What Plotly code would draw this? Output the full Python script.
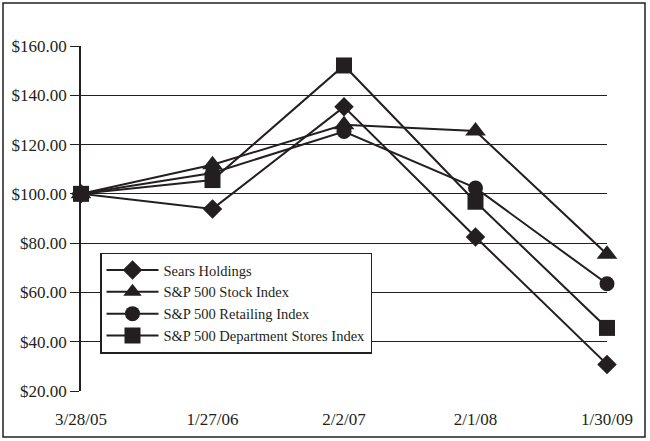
import plotly.graph_objects as go

dates = ["3/28/05", "1/27/06", "2/2/07", "2/1/08", "1/30/09"]
sears = [100, 93.9, 135.3, 82.5, 30.8]
sp500 = [100, 111.8, 128.0, 125.5, 75.5]
retail = [100, 108.5, 125.3, 102.4, 63.5]
dept = [100, 105.6, 152.1, 96.8, 45.6]

series = [
    ("Sears Holdings", sears, "diamond", 15),
    ("S&P 500 Stock Index", sp500, "triangle-up", 18),
    ("S&P 500 Retailing Index", retail, "circle", 15),
    ("S&P 500 Department Stores Index", dept, "square", 16),
]

fig = go.Figure()
for name, vals, sym, sz in series:
    fig.add_trace(go.Scatter(
        x=dates, y=vals, name=name, mode="lines+markers",
        line=dict(color="#231f20", width=2),
        marker=dict(symbol=sym, size=sz, color="#231f20"),
        cliponaxis=False,
    ))

L, R, T, B = 81, 43, 46, 50
W, H = 650, 441
pw, ph = W - L - R, H - T - B

def px(x):
    return (x - L) / pw

def py(y):
    return (H - B - y) / ph

fig.add_shape(type="rect", xref="paper", yref="paper",
              x0=px(3), x1=px(645), y0=py(437), y1=py(3),
              line=dict(color="#231f20", width=1.5), layer="below")

fig.update_layout(
    width=W, height=H,
    margin=dict(l=L, r=R, t=T, b=B),
    paper_bgcolor="white", plot_bgcolor="white",
    font=dict(family="Liberation Serif, Times New Roman, serif", size=17, color="#231f20"),
    showlegend=True,
    legend=dict(x=px(100), y=py(303), xanchor="left", yanchor="middle",
                bgcolor="white", bordercolor="#231f20", borderwidth=1.5,
                font=dict(size=14.5), tracegroupgap=0, itemwidth=52),
    xaxis=dict(type="category", range=[0, 4], showgrid=False, zeroline=False,
               showline=False, ticks="outside", ticklen=13, tickcolor="rgba(0,0,0,0)",
               tickfont=dict(size=17), automargin=False),
    yaxis=dict(range=[20, 160], dtick=20, tickprefix="$", tickformat=".2f",
               showgrid=True, gridcolor="#231f20", gridwidth=1,
               showline=True, linecolor="#231f20", linewidth=1.5,
               ticks="outside", ticklen=9, tickcolor="#231f20",
               zeroline=False, tickfont=dict(size=17), automargin=False),
)

fig.write_html("out.html", config={"displayModeBar": False},
               post_script="document.body.style.margin='0';")
